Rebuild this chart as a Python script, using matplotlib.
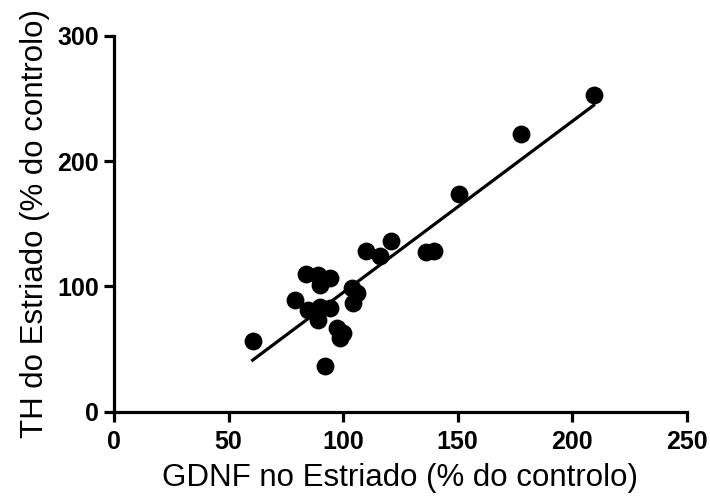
import matplotlib
matplotlib.use("Agg")
import matplotlib.pyplot as plt
import numpy as np

plt.rcParams['font.family'] = ['Liberation Sans', 'DejaVu Sans']

# Data
gdnf = [209.4, 177.8, 150.6, 120.7, 109.8, 116.0, 136.4, 139.9,
        83.8, 89.1, 94.2, 89.9, 79.0, 84.8, 89.9, 94.2, 89.1,
        103.7, 105.9, 104.4, 97.2, 100.0, 98.6, 60.5, 91.9]
th = [252.7, 221.5, 173.7, 136.2, 128.2, 123.9, 127.1, 128.2,
      109.7, 109.1, 106.5, 101.1, 89.1, 81.2, 83.8, 82.5, 73.2,
      98.5, 94.5, 86.5, 66.6, 62.6, 58.6, 56.4, 36.7]
fit_slope = 1.365
fit_intercept = -41.4

x_ticks = [0, 50, 100, 150, 200, 250]
y_ticks = [0, 100, 200, 300]
x_label = "GDNF no Estriado (% do controlo)"
y_label = "TH do Estriado (% do controlo)"

fig = plt.figure(figsize=(7.1, 4.97), dpi=100)
ax = fig.add_axes([0.1608, 0.1716, 0.8062, 0.7566])

ax.scatter(gdnf, th, s=165, color='black', zorder=3, linewidths=0)
xs = np.array([min(gdnf), max(gdnf)])
ax.plot(xs, fit_slope * xs + fit_intercept, color='black', lw=2.3, zorder=2)

ax.set_xlim(0, 250)
ax.set_ylim(0, 300)
ax.set_xticks(x_ticks)
ax.set_yticks(y_ticks)
ax.set_xticklabels([str(t) for t in x_ticks], fontsize=18, fontweight='bold')
ax.set_yticklabels([str(t) for t in y_ticks], fontsize=18, fontweight='bold')
for s in ['top', 'right']:
    ax.spines[s].set_visible(False)
for s in ['left', 'bottom']:
    ax.spines[s].set_linewidth(2.3)
ax.tick_params(axis='x', direction='out', length=7, width=2.3, pad=6)
ax.tick_params(axis='y', direction='out', length=7, width=2.3, pad=4)
ax.set_xlabel(x_label, fontsize=22.5, labelpad=7)
ax.set_ylabel(y_label, fontsize=22.5, labelpad=5)

fig.savefig("out.png", dpi=100)
